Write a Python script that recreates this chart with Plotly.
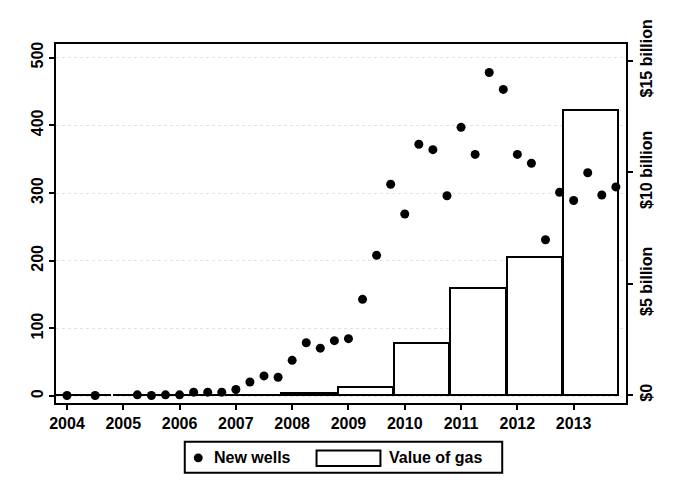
import plotly.graph_objects as go

# ---- data ----
well_years = [2004, 2004, 2005, 2005, 2005,
              2006, 2006, 2006, 2006,
              2007, 2007, 2007, 2007,
              2008, 2008, 2008, 2008,
              2009, 2009, 2009, 2009,
              2010, 2010, 2010, 2010,
              2011, 2011, 2011, 2011,
              2012, 2012, 2012, 2012,
              2013, 2013, 2013, 2013]
well_quarters = [1, 3, 2, 3, 4,
                 1, 2, 3, 4,
                 1, 2, 3, 4,
                 1, 2, 3, 4,
                 1, 2, 3, 4,
                 1, 2, 3, 4,
                 1, 2, 3, 4,
                 1, 2, 3, 4,
                 1, 2, 3, 4]
new_wells = [1, 1, 2, 1, 2,
             2, 6, 6, 6,
             10, 21, 30, 28,
             53, 79, 71, 82,
             85, 143, 208, 313,
             269, 372, 364, 296,
             397, 357, 478, 453,
             357, 344, 231, 301,
             289, 330, 297, 309]

gas_years = [2004, 2005, 2006, 2007, 2008, 2009, 2010, 2011, 2012, 2013]
gas_value_bn = [0.02, 0.02, 0.02, 0.02, 0.1, 0.35, 2.35, 4.8, 6.2, 12.8]

x_tick_years = [2004, 2005, 2006, 2007, 2008, 2009, 2010, 2011, 2012, 2013]
left_ticks = [0, 100, 200, 300, 400, 500]
right_ticks = [0, 5, 10, 15]
right_labels = ["$0", "$5 billion", "$10 billion", "$15 billion"]

FONT = "Liberation Sans, Arial, Helvetica, sans-serif"

well_x = [y + (q - 1) / 4 for y, q in zip(well_years, well_quarters)]
bar_x = [y + 0.3 for y in gas_years]

fig = go.Figure()

# bars on the base (right-side) axis so the wells dots draw on top
fig.add_trace(go.Bar(
    x=bar_x, y=gas_value_bn, width=0.98, yaxis="y",
    marker=dict(color="white", line=dict(color="black", width=2)),
    name="Value of gas", showlegend=False,
))

fig.add_trace(go.Scatter(
    x=well_x, y=new_wells, mode="markers", yaxis="y2",
    marker=dict(color="black", size=9),
    name="New wells", showlegend=False,
))

# page has an 8px body margin; figure is offset by (8, 8)
OFF = 8
W, H = 659, 481
# plot area in page pixels
L, R, T, B = 56, 627, 33, 403


def px(xp):
    return (xp - L) / (R - L)


def py(yp):
    return (B - yp) / (B - T)


shapes = [
    # legend frame
    dict(type="rect", xref="paper", yref="paper",
         x0=px(185), x1=px(503), y0=py(475), y1=py(443),
         line=dict(color="black", width=2), fillcolor="white"),
    # legend dot
    dict(type="circle", xref="paper", yref="paper",
         x0=px(194), x1=px(203), y0=py(464), y1=py(455),
         line=dict(color="black", width=0), fillcolor="black"),
    # legend bar box
    dict(type="rect", xref="paper", yref="paper",
         x0=px(317), x1=px(381), y0=py(468), y1=py(452),
         line=dict(color="black", width=2), fillcolor="white"),
]

annotations = [
    dict(xref="paper", yref="paper", x=px(212), y=py(459.5),
         xanchor="left", yanchor="middle", text="<b>New wells</b>", showarrow=False,
         font=dict(family=FONT, size=16, color="black")),
    dict(xref="paper", yref="paper", x=px(388), y=py(459.5),
         xanchor="left", yanchor="middle", text="<b>Value of gas</b>", showarrow=False,
         font=dict(family=FONT, size=16, color="black")),
]

tfont = dict(family=FONT, size=16, color="black", weight="bold")

fig.update_layout(
    width=W, height=H,
    margin=dict(l=L - OFF, r=W - (R - OFF), t=T - OFF, b=H - (B - OFF)),
    paper_bgcolor="white", plot_bgcolor="white",
    font=dict(family=FONT, size=16, color="black"),
    showlegend=False,
    bargap=0,
    xaxis=dict(
        range=[2003.805, 2013.93],
        tickvals=x_tick_years, ticktext=[str(v) for v in x_tick_years],
        ticks="outside", ticklen=5, tickwidth=2, tickcolor="black",
        showline=True, linecolor="black", linewidth=2, mirror=True,
        showgrid=False, zeroline=False,
        tickfont=tfont,
    ),
    yaxis=dict(
        side="right",
        range=[-0.35, 15.75],
        tickvals=right_ticks, ticktext=right_labels,
        ticks="outside", ticklen=5, tickwidth=2, tickcolor="black",
        tickangle=-90, ticklabeloverflow="allow",
        showline=True, linecolor="black", linewidth=2,
        showgrid=False, zeroline=False,
        tickfont=tfont,
    ),
    yaxis2=dict(
        overlaying="y", side="left",
        range=[-10, 520],
        tickvals=left_ticks,
        ticks="outside", ticklen=5, tickwidth=2, tickcolor="black",
        tickangle=-90,
        showline=True, linecolor="black", linewidth=2,
        showgrid=True, gridcolor="#e2e2e2", gridwidth=1, griddash="dot",
        zeroline=False,
        tickfont=tfont,
    ),
    shapes=shapes,
    annotations=annotations,
)

fig.write_html("out.html")
